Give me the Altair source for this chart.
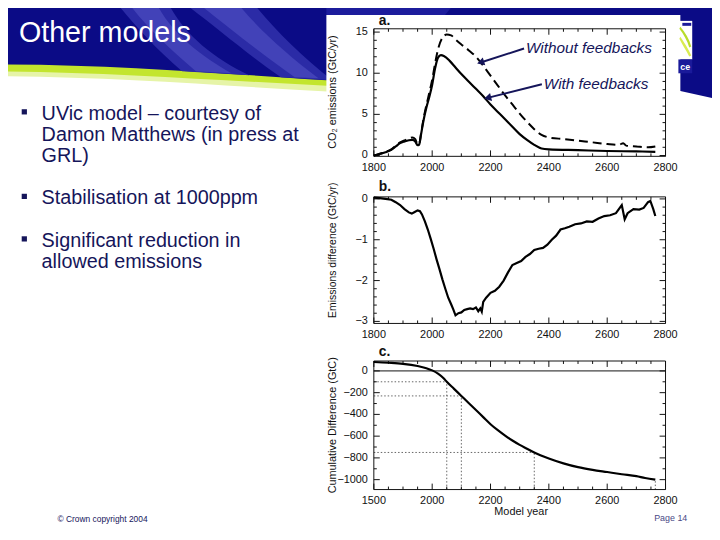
import math
import altair as alt
import pandas as pd

# ---------------- data ----------------
# panel a: CO2 emissions (GtC/yr)
a_years_with = [1800, 1820, 1840, 1860, 1875, 1890, 1905, 1920, 1932, 1942,
                1950, 1955, 1962, 1970, 1980, 1990, 2000, 2010, 2020, 2030,
                2040, 2060, 2080, 2100, 2125, 2150, 2175, 2200, 2225, 2250,
                2275, 2300, 2325, 2350, 2375, 2400, 2500, 2600, 2700, 2765]
a_with = [0.0, 0.2, 0.4, 0.7, 1.1, 1.5, 1.7, 1.85, 1.9, 1.7,
          1.25, 1.3, 2.6, 4.2, 5.8, 7.1, 8.6, 10.6, 11.9, 12.2,
          12.1, 11.5, 10.7, 9.9, 9.0, 8.1, 7.2, 6.2, 5.3, 4.4,
          3.5, 2.6, 1.9, 1.3, 0.85, 0.75, 0.65, 0.55, 0.5, 0.45]

a_years_without = [1800, 1820, 1840, 1860, 1875, 1890, 1905, 1920, 1932, 1942,
                   1950, 1955, 1962, 1970, 1980, 1990, 2000, 2010, 2020, 2035,
                   2050, 2065, 2080, 2100, 2125, 2150, 2175, 2200, 2225, 2250,
                   2275, 2300, 2325, 2350, 2375, 2400, 2450, 2500, 2550, 2600,
                   2640, 2655, 2665, 2700, 2740, 2765]
a_without = [0.0, 0.2, 0.45, 0.75, 1.2, 1.6, 1.85, 2.05, 2.2, 2.0,
             1.35, 1.4, 2.7, 4.4, 6.1, 7.6, 9.2, 11.2, 12.9, 14.3,
             14.7, 14.6, 14.1, 13.5, 12.8, 12.0, 10.9, 9.7, 8.5, 7.3,
             6.2, 5.1, 4.1, 3.2, 2.5, 2.2, 2.0, 1.8, 1.6, 1.4,
             1.3, 1.5, 1.2, 1.1, 1.0, 1.1]

# panel b: emissions difference (GtC/yr)
b_years = [1800, 1820, 1840, 1860, 1875, 1890, 1905, 1920, 1930, 1940,
           1950, 1958, 1965, 1975, 1985, 1995, 2005, 2015, 2025, 2035,
           2045, 2055, 2065, 2072, 2080, 2090, 2100, 2110, 2120, 2130,
           2140, 2150, 2158, 2165, 2170, 2175, 2185, 2200, 2215, 2230,
           2245, 2260, 2275, 2290, 2305, 2320, 2335, 2350, 2365, 2380,
           2395, 2410, 2425, 2440, 2455, 2470, 2490, 2510, 2530, 2550,
           2570, 2590, 2610, 2630, 2645, 2650, 2660, 2670, 2690, 2710,
           2725, 2740, 2748, 2758, 2765]
b_diff = [0.03, 0.02, 0.0, -0.02, -0.08, -0.15, -0.25, -0.33, -0.36, -0.32,
          -0.28, -0.30, -0.38, -0.55, -0.75, -0.98, -1.22, -1.48, -1.72, -1.97,
          -2.20, -2.42, -2.58, -2.70, -2.85, -2.80, -2.78, -2.72, -2.70, -2.68,
          -2.70, -2.66, -2.75, -2.68, -2.76, -2.52, -2.42, -2.30, -2.25, -2.15,
          -2.00, -1.80, -1.62, -1.57, -1.52, -1.42, -1.35, -1.25, -1.22, -1.20,
          -1.12, -1.00, -0.90, -0.75, -0.72, -0.68, -0.62, -0.60, -0.55, -0.56,
          -0.48, -0.42, -0.40, -0.35, -0.20, -0.15, -0.50, -0.35, -0.25, -0.26,
          -0.22, -0.08, -0.05, -0.25, -0.42]

# panel c: cumulative difference (GtC)
c_years = [1800, 1850, 1900, 1950, 1980, 2000, 2020, 2040, 2050, 2075,
           2100, 2125, 2150, 2175, 2200, 2225, 2250, 2275, 2300, 2325,
           2350, 2400, 2450, 2500, 2550, 2600, 2650, 2700, 2730, 2765]
c_cum = [82, 75, 65, 45, 25, 5, -25, -70, -100, -165,
         -230, -295, -360, -425, -490, -545, -595, -640, -680, -715,
         -750, -805, -850, -885, -910, -930, -950, -968, -985, -1000]

# reference (dotted) guides of panel c
guide_years = [2050, 2100, 2350, 2765]
guide_vals = [-100, -230, -750, -1000]

# axis ticks and labels
x_ticks = [1800, 2000, 2200, 2400, 2600, 2800]
x_labels_ab = ["1800", "2000", "2200", "2400", "2600", "2800"]
x_labels_c = ["1500", "2000", "2200", "2400", "2600", "2800"]
a_ticks = [0, 5, 10, 15]
a_labels = ["0", "5", "10", "15"]
b_ticks = [0, -1, -2, -3]
b_labels = ["0", "\u22121", "\u22122", "\u22123"]
c_ticks = [0, -200, -400, -600, -800, -1000]
c_labels = ["0", "\u2212200", "\u2212400", "\u2212600", "\u2212800", "\u22121000"]

# annotations of panel a: text anchor (year, value), arrow head (year, value)
ann_text = ["Without feedbacks", "With feedbacks"]
ann_tx = [2315, 2376]
ann_ty = [13.0, 8.65]
ann_hx = [2166, 2190]
ann_hy = [11.3, 7.0]

bullet_lines = ["UVic model \u2013 courtesy of", "Damon Matthews (in press at", "GRL)",
                "Stabilisation at 1000ppm",
                "Significant reduction in", "allowed emissions"]

# ---------------- layout / style ----------------
FONT = "Liberation Sans"
NAVY = "#15155a"
INK = "#111111"
XDOM = [1800, 2800]
XR = [378, 673]
P = {
    "a": dict(dom=[-0.1, 15.4], rng=[155, 26]),
    "b": dict(dom=[-3.05, 0.05], rng=[324, 196]),
    "c": dict(dom=[-1091, 91], rng=[492, 362]),
}


def xenc(field):
    return alt.X(field, type="quantitative",
                 scale=alt.Scale(domain=XDOM, range=XR, nice=False, zero=False), axis=None)


def yenc(field, p):
    return alt.Y(field, type="quantitative",
                 scale=alt.Scale(domain=P[p]["dom"], range=P[p]["rng"], nice=False, zero=False),
                 axis=None)


def frange(a, b, step):
    n = int(round((b - a) / step))
    return [round(a + i * step, 6) for i in range(n + 1)]


def frame_layers(p, ymaj, ymin_list, ylabels, xlabels):
    lo, hi = P[p]["dom"]
    ppx = (XR[1] - XR[0]) / (XDOM[1] - XDOM[0])
    ppy = abs(P[p]["rng"][0] - P[p]["rng"][1]) / (hi - lo)
    rows = []
    xminor = [v for v in range(1800, 2801, 50) if v not in x_ticks]
    for vals, L in ((x_ticks, 6), (xminor, 3)):
        for v in vals:
            rows.append(dict(x=v, x2=v, y=lo, y2=lo + L / ppy))
            rows.append(dict(x=v, x2=v, y=hi - L / ppy, y2=hi))
    for vals, L in ((ymaj, 6), (ymin_list, 3)):
        for v in vals:
            rows.append(dict(x=XDOM[0], x2=XDOM[0] + L / ppx, y=v, y2=v))
            rows.append(dict(x=XDOM[1] - L / ppx, x2=XDOM[1], y=v, y2=v))
    ticks = alt.Chart(pd.DataFrame(rows)).mark_rule(color=INK, strokeWidth=1).encode(
        x=xenc("x"), x2="x2", y=yenc("y", p), y2="y2")
    frame = alt.Chart(pd.DataFrame(dict(x=[XDOM[0]], x2=[XDOM[1]], y=[lo], y2=[hi]))).mark_rect(
        filled=False, color=INK, strokeWidth=1).encode(
        x=xenc("x"), x2="x2", y=yenc("y", p), y2="y2")
    ylab = alt.Chart(pd.DataFrame(dict(x=[XDOM[0]] * len(ymaj), y=ymaj, t=ylabels))).mark_text(
        align="right", baseline="middle", dx=-6, font=FONT, fontSize=11, color=INK).encode(
        x=xenc("x"), y=yenc("y", p), text="t:N")
    xlab = alt.Chart(pd.DataFrame(dict(x=x_ticks, y=[lo] * len(x_ticks), t=xlabels))).mark_text(
        align="center", baseline="middle", dy=12, font=FONT, fontSize=11, color=INK).encode(
        x=xenc("x"), y=yenc("y", p), text="t:N")
    return [frame, ticks, ylab, xlab]


# ---------------- panel a ----------------
df_with = pd.DataFrame(dict(year=a_years_with, v=a_with))
df_without = pd.DataFrame(dict(year=a_years_without, v=a_without))
line_without = alt.Chart(df_without).mark_line(
    color="black", strokeWidth=2, strokeDash=[9, 5], interpolate="monotone").encode(
    x=xenc("year"), y=yenc("v", "a"))
line_with = alt.Chart(df_with).mark_line(
    color="black", strokeWidth=2.2, interpolate="monotone").encode(
    x=xenc("year"), y=yenc("v", "a"))


def pxx(year):
    return XR[0] + (year - XDOM[0]) * (XR[1] - XR[0]) / (XDOM[1] - XDOM[0])


def pya(v):
    lo, hi = P["a"]["dom"]
    r0, r1 = P["a"]["rng"]
    return r0 + (v - lo) * (r1 - r0) / (hi - lo)


angles = []
for tx, ty, hx, hy in zip(ann_tx, ann_ty, ann_hx, ann_hy):
    dx = pxx(hx) - pxx(tx)
    dy = pya(hy) - pya(ty)
    angles.append(math.degrees(math.atan2(-dy, -dx)) % 360)

df_ann = pd.DataFrame(dict(t=ann_text, tx=ann_tx, ty=ann_ty, hx=ann_hx, hy=ann_hy, ang=angles))
arrows = alt.Chart(df_ann).mark_rule(color=NAVY, strokeWidth=2).encode(
    x=xenc("tx"), x2="hx", y=yenc("ty", "a"), y2="hy")
heads = alt.Chart(df_ann).mark_point(
    shape="triangle-left", filled=True, size=70, color=NAVY, opacity=1, strokeWidth=0).encode(
    x=xenc("hx"), y=yenc("hy", "a"), angle=alt.Angle("ang:Q", scale=None))
ann = alt.Chart(df_ann).mark_text(
    align="left", baseline="middle", dx=2, font=FONT, fontSize=15.5, fontStyle="italic",
    color=NAVY).encode(x=xenc("tx"), y=yenc("ty", "a"), text="t:N")

panel_a = alt.layer(
    *frame_layers("a", a_ticks, [v for v in frange(0, 15, 1) if v not in a_ticks], a_labels, x_labels_ab),
    line_without, line_with, arrows, heads, ann)

# ---------------- panel b ----------------
df_b = pd.DataFrame(dict(year=b_years, v=b_diff))
line_b = alt.Chart(df_b).mark_line(color="black", strokeWidth=2.2).encode(
    x=xenc("year"), y=yenc("v", "b"))
panel_b = alt.layer(
    *frame_layers("b", b_ticks, [v for v in frange(-3, 0, 0.2) if v not in b_ticks], b_labels, x_labels_ab),
    line_b)

# ---------------- panel c ----------------
df_c = pd.DataFrame(dict(year=c_years, v=c_cum))
line_c = alt.Chart(df_c).mark_line(color="black", strokeWidth=2.2, interpolate="monotone").encode(
    x=xenc("year"), y=yenc("v", "c"))
zero_line = alt.Chart(pd.DataFrame(dict(x=[XDOM[0]], x2=[XDOM[1]], y=[0]))).mark_rule(
    color=INK, strokeWidth=1).encode(x=xenc("x"), x2="x2", y=yenc("y", "c"))
lo_c = P["c"]["dom"][0]
g_rows = []
for i, (gx, gy) in enumerate(zip(guide_years, guide_vals)):
    g_rows.append(dict(x=gx, x2=gx, y=lo_c, y2=gy))
    if i < 3:
        g_rows.append(dict(x=XDOM[0], x2=gx, y=gy, y2=gy))
guides = alt.Chart(pd.DataFrame(g_rows)).mark_rule(
    color="#555555", strokeWidth=0.9, strokeDash=[1.5, 2]).encode(
    x=xenc("x"), x2="x2", y=yenc("y", "c"), y2="y2")
panel_c = alt.layer(
    guides,
    *frame_layers("c", c_ticks, [v for v in frange(-1000, 0, 100) if v not in c_ticks], c_labels, x_labels_c),
    zero_line, line_c)

# ---------------- slide decoration ----------------
one = pd.DataFrame(dict(k=[0]))


def shape(path, color):
    return alt.Chart(one).mark_point(
        shape=path, size=4, filled=True, color=color, opacity=1, strokeWidth=0).encode(
        x=alt.value(0), y=alt.value(0))


def rect(x, x2, y, y2, color):
    return alt.Chart(one).mark_rect(color=color).encode(
        x=alt.value(x), x2=alt.value(x2), y=alt.value(y), y2=alt.value(y2))


def label(x, y, txt, size, color, align="left", weight="normal", angle=0, baseline="alphabetic",
          style="normal"):
    return alt.Chart(one).mark_text(
        text=txt, align=align, baseline=baseline, font=FONT, fontSize=size, color=color,
        fontWeight=weight, angle=angle, fontStyle=style).encode(x=alt.value(x), y=alt.value(y))


pale_green = shape("M0,64 C120,64 230,74 340,80 L340,90 C230,84 120,75 0,74 Z", "#e6f4a8")
lime = shape("M0,60 C120,60 230,70 340,76 L340,84 C230,79 120,70 0,69 Z", "#c3e52e")
banner = shape("M0,0 L720,0 L720,96 L688,89 C600,86 420,80 330,78 C230,72 120,62 0,62 Z", "#0b0b86")
band1 = shape("M118,0 L170,0 C185,30 214,55 252,73 L184,69 C156,45 134,20 118,0 Z", "#2b2ba6")
band1b = shape("M130,0 L158,0 C173,30 201,52 234,71 L198,69 C170,45 146,22 130,0 Z", "#4242b8")
band2 = shape("M186,0 L256,0 C276,25 306,55 336,78 L284,75 C248,50 213,20 186,0 Z", "#2b2ba6")
band2b = shape("M200,0 L240,0 C260,25 290,52 322,76 L298,75 C262,50 228,22 200,0 Z", "#4242b8")
top_glow = shape("M330,0 L460,0 L450,12 L330,12 Z", "#1c1c9c")

fig_rect = rect(330, 688, 12, 540, "white")

logo_bg = rect(686, 700, 18, 57, "white")
logo_sw1 = shape("M688,24 C693,30 697,36 699,44 L697,45 C695,38 691,31 687,26 Z", "#b8dc2a")
logo_sw2 = shape("M688,34 C692,40 696,46 699,53 L697,54 C694,48 690,42 687,36 Z", "#d9ec50")
logo_sw3 = shape("M690,20 L699,20 L699,23 L690,23 Z", "#1a1a9a")
logo_box = rect(686, 700, 57, 71, "#1a1a9a")
logo_txt = label(693, 68, "ce", 9, "white", align="center", weight="bold")

title = label(19, 39, "Other models", 29, "white")

bullet_y = [118, 139.5, 161, 203.5, 246.5, 268]
bullets_df = pd.DataFrame(dict(t=bullet_lines, y=bullet_y))
bullet_text = alt.Chart(bullets_df).mark_text(
    align="left", baseline="alphabetic", font=FONT, fontSize=20, color=NAVY).encode(
    x=alt.value(42), y=alt.Y("y:Q", scale=None), text="t:N")
sq_df = pd.DataFrame(dict(y=[bullet_y[0] - 8, bullet_y[3] - 8, bullet_y[4] - 8]))
squares = alt.Chart(sq_df).mark_square(size=28, color=NAVY, opacity=1).encode(
    x=alt.value(24.5), y=alt.Y("y:Q", scale=None))

footer1 = label(58, 525, "\u00a9 Crown copyright 2004", 8.5, NAVY)
footer2 = label(695, 524, "Page 14", 9, "#4a4a86", align="right")

ytitle_a = label(337, 90, "CO\u2082 emissions  (GtC/yr)", 11, INK, align="center", angle=270,
                 baseline="middle")
ytitle_b = label(337, 250, "Emissions  difference  (GtC/yr)", 10.5, INK, align="center", angle=270,
                 baseline="middle")
ytitle_c = label(337, 427, "Cumulative Difference (GtC)", 11, INK, align="center", angle=270,
                 baseline="middle")
letter_a = label(383, 18, "a.", 14, INK, weight="bold", baseline="middle")
letter_b = label(383, 186, "b.", 14, INK, weight="bold", baseline="middle")
letter_c = label(383, 353, "c.", 14, INK, weight="bold", baseline="middle")
xtitle = label(527, 515, "Model year", 11, INK, align="center", baseline="middle")

chart = alt.layer(
    pale_green, lime, banner, band1, band1b, band2, band2b, top_glow,
    fig_rect, logo_bg, logo_sw1, logo_sw2, logo_sw3, logo_box, logo_txt,
    panel_a, panel_b, panel_c,
    ytitle_a, ytitle_b, ytitle_c, letter_a, letter_b, letter_c, xtitle,
    title, bullet_text, squares, footer1, footer2,
).resolve_scale(y="independent").properties(
    width=720, height=540,
    padding={"left": -8, "top": -8, "right": 0, "bottom": 0},
    autosize=alt.AutoSizeParams(type="none"),
).configure_view(strokeWidth=0)

chart.save("out.html", embed_options={"renderer": "svg", "actions": False})
